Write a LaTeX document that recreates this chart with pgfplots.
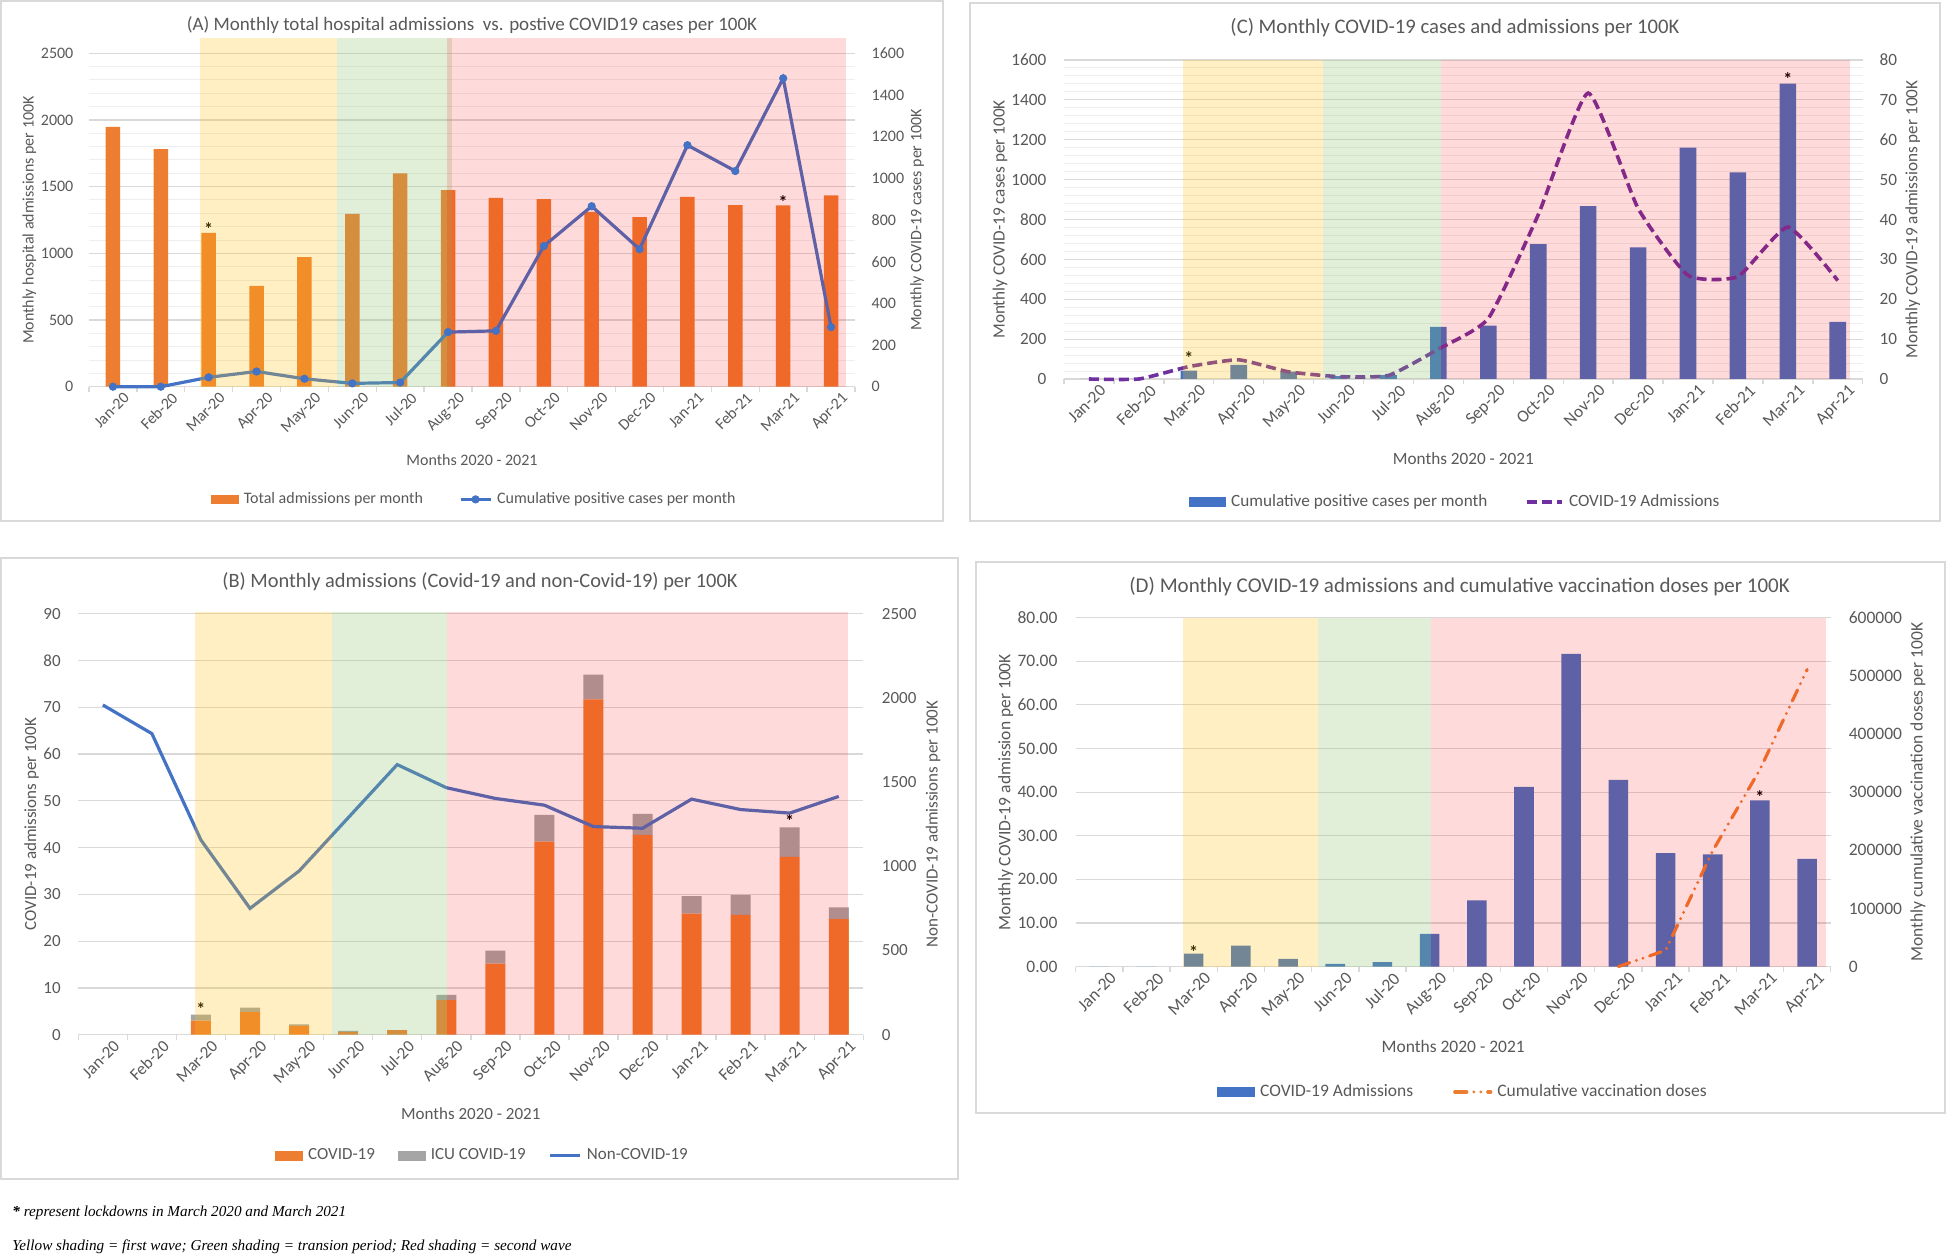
\documentclass[border=0pt]{standalone}
\usepackage{fontspec}
\setmainfont{Carlito}
\newfontfamily\timesfont{Liberation Serif}
\usepackage{pgfplots}
\pgfplotsset{compat=1.18}

\definecolor{orangeC}{HTML}{ED7D31}
\definecolor{blueC}{HTML}{4472C4}
\definecolor{greyC}{HTML}{A5A5A5}
\definecolor{purpleC}{HTML}{7030A0}
\definecolor{labgray}{HTML}{595959}
\definecolor{gridgray}{HTML}{D9D9D9}
\definecolor{minorgray}{HTML}{EEEEEE}
\definecolor{framegray}{HTML}{D9D9D9}
\definecolor{shY}{RGB}{255,195,15}
\definecolor{shG}{RGB}{139,195,103}
\definecolor{shR}{RGB}{255,0,0}

\tikzset{lock/.style={anchor=base, inner sep=0pt, font=\bfseries\fontsize{9}{9}\selectfont, text=black, yshift=-4.4pt}}

\pgfplotsset{
  /pgf/number format/assume math mode=true,
  /pgf/number format/1000 sep={},
  fz/.style={ticklabel style={font=\fontsize{#1}{#1}\selectfont}, label style={font=\fontsize{#1}{#1}\selectfont}, legend style={font=\fontsize{#1}{#1}\selectfont}},
  markleg/.style={legend image code/.code={\draw[mark repeat=2, mark phase=2, ##1] plot coordinates {(0pt,0pt) (7.5pt,0pt) (15pt,0pt)};}},
  linleg/.style={legend image code/.code={\draw[##1] (0pt,0pt) -- (#1,0pt);}},
  baseax/.style={
    scale only axis, anchor=south west,
    xmin=-0.5, xmax=15.5, ymin=0,
    ticklabel style={text=labgray},
    label style={text=labgray},
    tick style={draw=none},
    major tick length=0pt, minor tick length=0pt,
    scaled y ticks=false,
  },
  leftax/.style={
    baseax,
    axis x line*=bottom, axis y line*=left,
    x axis line style={draw=gridgray, line width=0.7pt, -},
    y axis line style={draw=none},
    xtick={0,...,15},
    xticklabels={Jan-20,Feb-20,Mar-20,Apr-20,May-20,Jun-20,Jul-20,Aug-20,Sep-20,Oct-20,Nov-20,Dec-20,Jan-21,Feb-21,Mar-21,Apr-21},
    xticklabel style={rotate=45, anchor=north east, inner sep=0pt, xshift=2pt, yshift=-5pt},
    extra x ticks={-0.5,0.5,...,15.5},
    extra x tick labels={},
    extra x tick style={major tick length=2.5pt, tick align=outside, tick style={draw=gridgray, line width=0.7pt}},
    ymajorgrids, major grid style={draw=gridgray, line width=0.6pt},
    minor grid style={draw=minorgray, line width=0.5pt},
    xlabel={Months 2020 - 2021},
  },
  rightax/.style={
    baseax, hide x axis, axis y line*=right,
    y axis line style={draw=none},
    clip=false,
    legend style={anchor=center, legend columns=-1, draw=none, fill=none, text=labgray,
      nodes={inner sep=1pt},
      /tikz/every odd column/.append style={column sep=1.5pt}},
  },
}

\begin{document}
\begin{tikzpicture}
\useasboundingbox (0,0) rectangle (973pt,627.5pt);
\fill[white] (0,0) rectangle (973pt,627.5pt);
% frames
\draw[framegray, line width=0.7pt] (0.5pt,367pt) rectangle (471.5pt,627pt);
\draw[framegray, line width=0.7pt] (485pt,367pt) rectangle (970pt,626pt);
\draw[framegray, line width=0.7pt] (0.5pt,38pt) rectangle (479pt,348.5pt);
\draw[framegray, line width=0.7pt] (488pt,71pt) rectangle (972.5pt,346.5pt);

% ================= Panel A =================
\begin{axis}[leftax, fz=8, at={(44.5pt,434.15pt)}, width=383pt, height=166.7pt,
  ymax=2500, ytick distance=500, minor y tick num=4, yminorgrids,
  yticklabel style={xshift=-4.3pt},
  ylabel={Monthly hospital admissions per 100K},
  ylabel style={at={(axis description cs:-0.078,0.5)}, anchor=center},
  xlabel style={at={(axis description cs:0.5,-0.219)}, anchor=center}]
\addplot[ybar, bar width=7.3pt, fill=orangeC, draw=none] coordinates {(0,1948) (1,1781) (2,1153) (3,756) (4,971) (5,1295) (6,1600) (7,1474) (8,1415) (9,1407) (10,1310) (11,1272) (12,1424) (13,1362) (14,1360) (15,1435)};
\node[lock] at (axis cs:2,1200) {*};
\node[lock] at (axis cs:14,1400) {*};
\end{axis}
\begin{axis}[rightax, fz=8, at={(44.5pt,434.15pt)}, width=383pt, height=166.7pt,
  ymax=1600, ytick distance=200,
  yticklabel style={xshift=4.8pt},
  ylabel={Monthly COVID-19 cases per 100K},
  ylabel style={at={(axis description cs:1.081,0.5)}, anchor=center},
  legend style={at={(axis description cs:0.503,-0.338)}, /tikz/every even column/.append style={column sep=17pt}}]
\addlegendimage{legend image code/.code={\fill[orangeC] (0pt,-2.2pt) rectangle (13.5pt,2.2pt);}}
\addlegendentry{Total admissions per month}
\addplot[blueC, line width=1.6pt, mark=*, mark size=1.8pt, mark options={solid, fill=blueC, line width=0.5pt}, markleg]
  coordinates {(0,0) (1,0) (2,45) (3,73) (4,38) (5,16) (6,20) (7,262) (8,268) (9,675) (10,866) (11,660) (12,1159) (13,1035) (14,1480) (15,286)};
\addlegendentry{Cumulative positive cases per month}
\fill[shY, fill opacity=0.25] (axis cs:1.82,0) rectangle (axis cs:4.68,1672);
\fill[shG, fill opacity=0.25] (axis cs:4.68,0) rectangle (axis cs:7.08,1672);
\fill[shR, fill opacity=0.145] (axis cs:6.98,0) rectangle (axis cs:15.32,1672);
\end{axis}
\node[text=labgray, font=\fontsize{9.5}{11}\selectfont] at (236pt,615pt) {(A) Monthly total hospital admissions\ \ vs. postive COVID19 cases per 100K};

% ================= Panel C =================
\begin{axis}[leftax, fz=8.6, at={(532pt,438pt)}, width=399.35pt, height=159.5pt,
  ymax=1600, ytick distance=200, minor y tick num=4, yminorgrids,
  yticklabel style={xshift=-5.3pt},
  ylabel={Monthly COVID-19 cases per 100K},
  ylabel style={at={(axis description cs:-0.080,0.5)}, anchor=center},
  xlabel style={at={(axis description cs:0.5,-0.251)}, anchor=center}]
\addplot[ybar, bar width=8.3pt, fill=blueC, draw=none] coordinates {(0,0) (1,0) (2,42) (3,71) (4,37) (5,14) (6,20) (7,261) (8,268) (9,676) (10,867) (11,660) (12,1160) (13,1036) (14,1482) (15,287)};
\node[lock] at (axis cs:2,115) {*};
\node[lock] at (axis cs:14,1515) {*};
\end{axis}
\begin{axis}[rightax, fz=8.6, at={(532pt,438pt)}, width=399.35pt, height=159.5pt,
  ymax=80, ytick distance=10,
  yticklabel style={xshift=4.9pt},
  ylabel={Monthly COVID-19 admissions per 100K},
  ylabel style={at={(axis description cs:1.0626,0.5)}, anchor=center},
  legend style={at={(axis description cs:0.49,-0.386)}, /tikz/every even column/.append style={column sep=18pt}}]
\addlegendimage{legend image code/.code={\fill[blueC] (0pt,-2.2pt) rectangle (18pt,2.2pt);}}
\addlegendentry{Cumulative positive cases per month}
\addplot[purpleC, line width=1.8pt, dash pattern=on 5pt off 2.5pt, smooth, tension=0.3, linleg=17.5pt]
  coordinates {(0,0) (1,0) (2,3.1) (3,4.8) (4,1.8) (5,0.6) (6,0.9) (7,7.5) (8,15.2) (9,41.2) (10,71.7) (11,42.8) (12,26.0) (13,25.7) (14,38.1) (15,24.7)};
\addlegendentry{COVID-19 Admissions}
\fill[shY, fill opacity=0.25] (axis cs:1.885,0) rectangle (axis cs:4.69,80);
\fill[shG, fill opacity=0.25] (axis cs:4.69,0) rectangle (axis cs:7.055,80);
\fill[shR, fill opacity=0.145] (axis cs:7.055,0) rectangle (axis cs:15.25,80);
\end{axis}
\node[text=labgray, font=\fontsize{10.35}{12}\selectfont] at (727.5pt,613.5pt) {(C) Monthly COVID-19 cases and admissions per 100K};

% ================= Panel B =================
\begin{axis}[leftax, fz=8.5, at={(39.15pt,110.15pt)}, width=392.5pt, height=210.5pt,
  ybar stacked, bar width=10pt,
  ymax=90, ytick distance=10,
  yticklabel style={xshift=-5.3pt},
  ylabel={COVID-19 admissions per 100K},
  ylabel style={at={(axis description cs:-0.0594,0.5)}, anchor=center},
  xlabel style={at={(axis description cs:0.5,-0.1876)}, anchor=center}]
\addplot[fill=orangeC, draw=none] coordinates {(0,0) (1,0) (2,3.0) (3,4.9) (4,1.9) (5,0.6) (6,1.0) (7,7.4) (8,15.2) (9,41.3) (10,71.7) (11,42.7) (12,25.9) (13,25.6) (14,38.0) (15,24.7)};
\addplot[fill=greyC, draw=none] coordinates {(0,0) (1,0) (2,1.3) (3,0.9) (4,0.3) (5,0.2) (6,0) (7,1.1) (8,2.8) (9,5.7) (10,5.3) (11,4.5) (12,3.7) (13,4.3) (14,6.3) (15,2.5)};
\node[lock] at (axis cs:2,5.9) {*};
\node[lock] at (axis cs:14,46.1) {*};
\end{axis}
\begin{axis}[rightax, fz=8.5, at={(39.15pt,110.15pt)}, width=392.5pt, height=210.5pt,
  ymax=2500, ytick distance=500,
  yticklabel style={xshift=5.8pt},
  ylabel={Non-COVID-19 admissions per 100K},
  ylabel style={at={(axis description cs:1.089,0.5)}, anchor=center},
  legend style={at={(axis description cs:0.515,-0.287)}, /tikz/every even column/.append style={column sep=10.5pt}}]
\addlegendimage{legend image code/.code={\fill[orangeC] (0pt,-2.2pt) rectangle (13.5pt,2.2pt);}}
\addlegendentry{COVID-19}
\addlegendimage{legend image code/.code={\fill[greyC] (0pt,-2.2pt) rectangle (13.5pt,2.2pt);}}
\addlegendentry{ICU COVID-19}
\addplot[blueC, line width=1.6pt, linleg=15pt]
  coordinates {(0,1958) (1,1788) (2,1156) (3,750) (4,972) (5,1288) (6,1604) (7,1467) (8,1403) (9,1363) (10,1236) (11,1226) (12,1399) (13,1337) (14,1316) (15,1415)};
\addlegendentry{Non-COVID-19}
\fill[shY, fill opacity=0.25] (axis cs:1.885,0) rectangle (axis cs:4.677,2512);
\fill[shG, fill opacity=0.25] (axis cs:4.677,0) rectangle (axis cs:7.02,2512);
\fill[shR, fill opacity=0.145] (axis cs:7.02,0) rectangle (axis cs:15.195,2512);
\end{axis}
\node[text=labgray, font=\fontsize{10.2}{12}\selectfont] at (240pt,336.5pt) {(B) Monthly admissions (Covid-19 and non-Covid-19) per 100K};

% ================= Panel D =================
\begin{axis}[leftax, fz=8.75, at={(537.85pt,144.2pt)}, width=377.5pt, height=174.5pt,
  ymax=80, ytick distance=10,
  yticklabel style={xshift=-5.6pt, /pgf/number format/fixed, /pgf/number format/fixed zerofill, /pgf/number format/precision=2},
  ylabel={Monthly COVID-19 admission per 100K},
  ylabel style={at={(axis description cs:-0.0927,0.5)}, anchor=center},
  xlabel style={at={(axis description cs:0.5,-0.23)}, anchor=center}]
\addplot[ybar, bar width=9.8pt, fill=blueC, draw=none] coordinates {(0,0) (1,0) (2,3.0) (3,4.8) (4,1.8) (5,0.6) (6,1.0) (7,7.5) (8,15.2) (9,41.2) (10,71.7) (11,42.8) (12,26.0) (13,25.7) (14,38.1) (15,24.7)};
\node[lock] at (axis cs:2,3.9) {*};
\node[lock] at (axis cs:14,39.35) {*};
\end{axis}
\begin{axis}[rightax, fz=8.75, at={(537.85pt,144.2pt)}, width=377.5pt, height=174.5pt,
  ymax=600000, ytick distance=100000,
  yticklabel style={xshift=5.5pt, /pgf/number format/fixed},
  ylabel={Monthly cumulative vaccination doses per 100K},
  ylabel style={at={(axis description cs:1.1156,0.5)}, anchor=center},
  legend style={at={(axis description cs:0.513,-0.359)}, /tikz/every even column/.append style={column sep=19pt}}]
\addlegendimage{legend image code/.code={\fill[blueC] (0pt,-2.2pt) rectangle (18.5pt,2.2pt);}}
\addlegendentry{COVID-19 Admissions}
\addplot[orangeC, line width=1.6pt, line cap=round, dash pattern=on 6pt off 3.5pt on 0pt off 3.5pt on 0pt off 3.5pt, linleg=18pt]
  coordinates {(11,0) (12,27900) (13,199200) (14,338900) (15,510700)};
\addlegendentry{Cumulative vaccination doses}
\fill[shY, fill opacity=0.25] (axis cs:1.767,0) rectangle (axis cs:4.627,600000);
\fill[shG, fill opacity=0.25] (axis cs:4.627,0) rectangle (axis cs:7.02,600000);
\fill[shR, fill opacity=0.145] (axis cs:7.02,0) rectangle (axis cs:15.41,600000);
\end{axis}
\node[text=labgray, font=\fontsize{10.5}{12}\selectfont] at (729.8pt,334.3pt) {(D) Monthly COVID-19 admissions and cumulative vaccination doses per 100K};

% footnotes
\node[anchor=west, inner sep=0pt, font=\timesfont\itshape\fontsize{7.6}{9}\selectfont] at (6pt,21pt) {\textbf{*} represent lockdowns in March 2020 and March 2021};
\node[anchor=west, inner sep=0pt, font=\timesfont\itshape\fontsize{7.6}{9}\selectfont] at (6pt,4pt) {Yellow shading = first wave; Green shading = transion period; Red shading = second wave};
\end{tikzpicture}
\end{document}
